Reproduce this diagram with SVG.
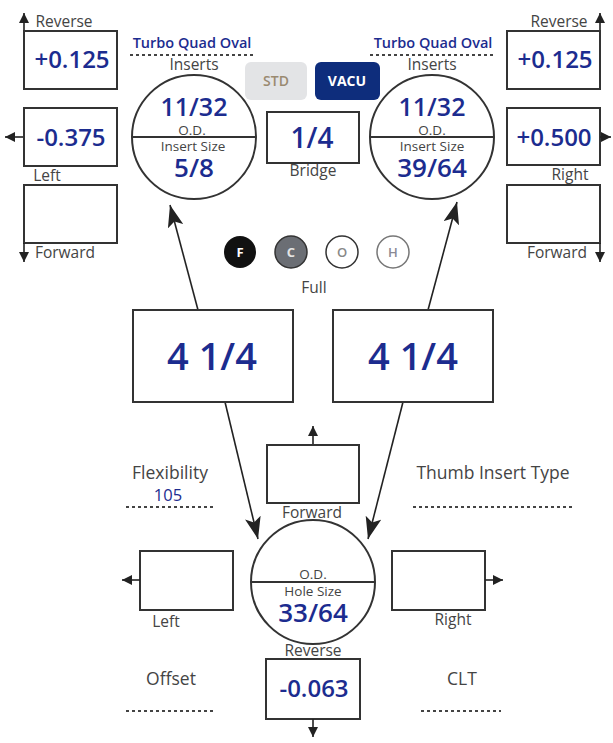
<svg xmlns="http://www.w3.org/2000/svg" width="613" height="743" viewBox="0 0 613 743">
<style>
.box{fill:#fff;stroke:#333;stroke-width:2}
.circ{fill:#fff;stroke:#333;stroke-width:2}
.val{font-family:"Open Sans","Liberation Sans",sans-serif;font-weight:600;fill:#1c2c8f;text-anchor:middle}
.lbl{font-family:"Open Sans","Liberation Sans",sans-serif;font-size:15.5px;fill:#444;text-anchor:middle}
.in{font-family:"Open Sans","Liberation Sans",sans-serif;font-size:13.5px;fill:#444;text-anchor:middle}
.ttl{font-family:"Open Sans","Liberation Sans",sans-serif;font-size:17.5px;fill:#444;text-anchor:middle}
.blue{font-family:"Open Sans","Liberation Sans",sans-serif;font-size:14.5px;font-weight:600;fill:#1c2c8f;text-anchor:middle}
.dot{stroke:#444;stroke-width:2;stroke-dasharray:3 3;fill:none}
.conn{stroke:#222;stroke-width:1.6;fill:none}
.sm{stroke:#222;stroke-width:1.6;fill:none}
</style>
<defs>
<marker id="bigA" viewBox="0 0 22 16" refX="22" refY="8" markerWidth="22" markerHeight="16" markerUnits="userSpaceOnUse" orient="auto"><path d="M0,0 L22,8 L0,16 L5,8 Z" fill="#222"/></marker>
<marker id="smA" viewBox="0 0 10 10" refX="10" refY="5" markerWidth="10" markerHeight="10" markerUnits="userSpaceOnUse" orient="auto"><path d="M0,0 L10,5 L0,10 Z" fill="#222"/></marker>
</defs>

<g id="connectors">
<line class="conn" x1="198" y1="310" x2="170" y2="205" marker-end="url(#bigA)"/>
<line class="conn" x1="428" y1="310" x2="457" y2="202" marker-end="url(#bigA)"/>
<line class="conn" x1="225" y1="402" x2="258" y2="539" marker-end="url(#bigA)"/>
<line class="conn" x1="403" y1="402" x2="368" y2="539" marker-end="url(#bigA)"/>
</g>

<g id="tl-reverse">
<line class="sm" x1="24" y1="31" x2="24" y2="13" marker-end="url(#smA)"/>
<text class="lbl" x="64" y="27">Reverse</text>
<rect class="box" x="24" y="31" width="93" height="58"/>
<text class="val" x="72" y="68" font-size="24">+0.125</text>
</g>
<g id="tl-left">
<line class="sm" x1="24" y1="137" x2="5" y2="137" marker-end="url(#smA)"/>
<rect class="box" x="24" y="108" width="93" height="58"/>
<text class="val" x="71" y="146" font-size="24">-0.375</text>
<text class="lbl" x="47" y="181">Left</text>
</g>
<g id="tl-forward">
<rect class="box" x="24" y="185" width="93" height="58"/>
<line class="sm" x1="24" y1="243" x2="24" y2="262" marker-end="url(#smA)"/>
<text class="lbl" x="65" y="258">Forward</text>
</g>

<g id="left-insert">
<text class="blue" x="192" y="48">Turbo Quad Oval</text>
<line class="dot" x1="130" y1="55" x2="254" y2="55"/>
<text class="lbl" x="194" y="70">Inserts</text>
<circle class="circ" cx="194" cy="137" r="62"/>
<line x1="132" y1="137" x2="256" y2="137" stroke="#333" stroke-width="2"/>
<text class="val" x="194" y="116" font-size="25">11/32</text>
<text class="in" x="192" y="134.5">O.D.</text>
<text class="in" x="193" y="150.5">Insert Size</text>
<text class="val" x="194" y="177" font-size="26">5/8</text>
</g>

<g id="std">
<rect x="245" y="62" width="62" height="38" rx="6" fill="#e3e4e6"/>
<text x="276" y="86" font-family="Open Sans, Liberation Sans, sans-serif" font-size="14" font-weight="600" fill="#9a8a70" text-anchor="middle">STD</text>
</g>
<g id="vacu">
<rect x="315" y="62" width="65" height="38" rx="6" fill="#0e2d7c"/>
<text x="347" y="86" font-family="Open Sans, Liberation Sans, sans-serif" font-size="14" font-weight="700" fill="#fff" text-anchor="middle">VACU</text>
</g>

<g id="bridge">
<rect class="box" x="267" y="112" width="92" height="51"/>
<text class="val" x="312" y="148" font-size="28">1/4</text>
<text class="lbl" x="313" y="176">Bridge</text>
</g>

<g id="right-insert">
<text class="blue" x="433" y="48">Turbo Quad Oval</text>
<line class="dot" x1="370" y1="55" x2="496" y2="55"/>
<text class="lbl" x="432" y="70">Inserts</text>
<circle class="circ" cx="432" cy="137" r="62"/>
<line x1="370" y1="137" x2="494" y2="137" stroke="#333" stroke-width="2"/>
<text class="val" x="432" y="116" font-size="25">11/32</text>
<text class="in" x="432" y="134.5">O.D.</text>
<text class="in" x="432" y="150.5">Insert Size</text>
<text class="val" x="432" y="177" font-size="26">39/64</text>
</g>

<g id="tr-reverse">
<line class="sm" x1="600" y1="31" x2="600" y2="13" marker-end="url(#smA)"/>
<text class="lbl" x="559" y="27">Reverse</text>
<rect class="box" x="507" y="31" width="93" height="58"/>
<text class="val" x="555" y="68" font-size="24">+0.125</text>
</g>
<g id="tr-right">
<rect class="box" x="507" y="108" width="93" height="57"/>
<line class="sm" x1="600" y1="137" x2="611" y2="137" marker-end="url(#smA)"/>
<text class="val" x="554" y="146" font-size="24">+0.500</text>
<text class="lbl" x="570" y="180">Right</text>
</g>
<g id="tr-forward">
<rect class="box" x="507" y="185" width="93" height="58"/>
<line class="sm" x1="600" y1="243" x2="600" y2="262" marker-end="url(#smA)"/>
<text class="lbl" x="557" y="258">Forward</text>
</g>

<g id="grip">
<circle cx="240" cy="252" r="16" fill="#111"/>
<text x="240" y="257" font-family="Open Sans, Liberation Sans, sans-serif" font-size="13" font-weight="700" fill="#fff" text-anchor="middle">F</text>
<circle cx="291" cy="252" r="16" fill="#6b6e74" stroke="#333" stroke-width="1.5"/>
<text x="291" y="257" font-family="Open Sans, Liberation Sans, sans-serif" font-size="13" font-weight="700" fill="#e4e4e4" text-anchor="middle">C</text>
<circle cx="342" cy="252" r="16" fill="#fff" stroke="#333" stroke-width="1.5"/>
<text x="342" y="257" font-family="Open Sans, Liberation Sans, sans-serif" font-size="13" font-weight="600" fill="#888" text-anchor="middle">O</text>
<circle cx="393" cy="252" r="16" fill="#fff" stroke="#777" stroke-width="1.5"/>
<text x="393" y="257" font-family="Open Sans, Liberation Sans, sans-serif" font-size="13" font-weight="600" fill="#8a8a95" text-anchor="middle">H</text>
<text class="lbl" x="314" y="293">Full</text>
</g>

<g id="left-span">
<rect class="box" x="133" y="310" width="160" height="92"/>
<text class="val" x="212" y="370" font-size="38">4 1/4</text>
</g>
<g id="right-span">
<rect class="box" x="333" y="310" width="160" height="92"/>
<text class="val" x="413" y="370" font-size="38">4 1/4</text>
</g>

<g id="flexibility">
<text class="ttl" x="170" y="479">Flexibility</text>
<text x="168" y="501" font-family="Open Sans, Liberation Sans, sans-serif" font-size="16.5" fill="#1c2c8f" text-anchor="middle">105</text>
<line class="dot" x1="126" y1="507" x2="214" y2="507"/>
</g>
<g id="thumb-type">
<text class="ttl" x="493" y="479">Thumb Insert Type</text>
<line class="dot" x1="413" y1="507" x2="574" y2="507"/>
</g>

<g id="b-forward">
<line class="sm" x1="313" y1="445" x2="313" y2="426" marker-end="url(#smA)"/>
<rect class="box" x="267" y="445" width="92" height="58"/>
<text class="lbl" x="312" y="518">Forward</text>
</g>

<g id="thumb">
<circle class="circ" cx="313" cy="582" r="62"/>
<line x1="251" y1="582" x2="375" y2="582" stroke="#333" stroke-width="2"/>
<text class="in" x="313" y="579">O.D.</text>
<text class="in" x="313" y="596">Hole Size</text>
<text class="val" x="313" y="622" font-size="26">33/64</text>
</g>

<g id="b-left">
<rect class="box" x="140" y="551" width="93" height="59"/>
<line class="sm" x1="140" y1="580" x2="122" y2="580" marker-end="url(#smA)"/>
<text class="lbl" x="166" y="627">Left</text>
</g>
<g id="b-right">
<rect class="box" x="392" y="551" width="93" height="59"/>
<line class="sm" x1="485" y1="580" x2="503" y2="580" marker-end="url(#smA)"/>
<text class="lbl" x="453" y="625">Right</text>
</g>

<g id="b-reverse">
<text class="lbl" x="313" y="656">Reverse</text>
<rect class="box" x="266" y="659" width="94" height="60"/>
<text class="val" x="314" y="697" font-size="24">-0.063</text>
<line class="sm" x1="313" y1="719" x2="313" y2="737" marker-end="url(#smA)"/>
</g>

<g id="offset">
<text class="ttl" x="171" y="685">Offset</text>
<line class="dot" x1="126" y1="711" x2="214" y2="711"/>
</g>
<g id="clt">
<text class="ttl" x="462" y="685">CLT</text>
<line class="dot" x1="421" y1="711" x2="501" y2="711"/>
</g>
</svg>
